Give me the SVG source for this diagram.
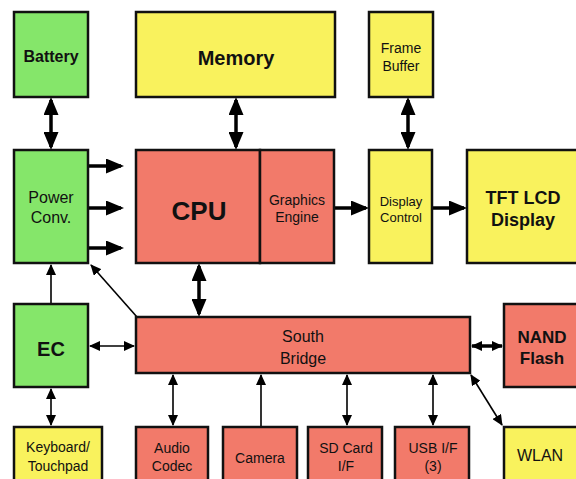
<svg xmlns="http://www.w3.org/2000/svg" width="576" height="479" viewBox="0 0 576 479">
<style>
  .box { stroke: #111; stroke-width: 2.5; }
  .g { fill: #85e66a; }
  .y { fill: #f9f25d; }
  .r { fill: #f27a6a; }
  text { font-family: "Liberation Sans", Arial, sans-serif; fill: #111; text-anchor: middle; }
  .b { font-weight: bold; }
  .thick { stroke: #000; stroke-width: 3.5; fill: none; }
  .thin { stroke: #000; stroke-width: 1.6; fill: none; }
</style>
<defs>
  <marker id="big" markerUnits="userSpaceOnUse" markerWidth="18" markerHeight="15" refX="15" refY="7.5" orient="auto-start-reverse">
    <path d="M0,0 L18,7.5 L0,15 z" fill="#000"/>
  </marker>
  <marker id="small" markerUnits="userSpaceOnUse" markerWidth="11" markerHeight="10" refX="10" refY="5" orient="auto-start-reverse">
    <path d="M0,0 L11,5 L0,10 z" fill="#000"/>
  </marker>
</defs>
<rect width="576" height="479" fill="#fff"/>

<g id="connectors">
  <line class="thick" x1="51" y1="100" x2="51" y2="147" marker-start="url(#big)" marker-end="url(#big)"/>
  <line class="thick" x1="236" y1="100" x2="236" y2="147" stroke-width="4.5" marker-start="url(#big)" marker-end="url(#big)"/>
  <line class="thick" x1="408" y1="100" x2="408" y2="147" marker-start="url(#big)" marker-end="url(#big)"/>
  <line class="thick" x1="89" y1="166" x2="121" y2="166" marker-end="url(#big)"/>
  <line class="thick" x1="89" y1="208" x2="121" y2="208" marker-end="url(#big)"/>
  <line class="thick" x1="89" y1="248" x2="121" y2="248" marker-end="url(#big)"/>
  <line class="thick" x1="335" y1="208" x2="366" y2="208" marker-end="url(#big)"/>
  <line class="thick" x1="433" y1="208" x2="464" y2="208" marker-end="url(#big)"/>
  <line class="thick" x1="199" y1="266" x2="199" y2="314" stroke-width="4.5" marker-start="url(#big)" marker-end="url(#big)"/>
  <line class="thin" x1="51" y1="303" x2="51" y2="265" marker-end="url(#small)"/>
  <line class="thin" x1="137" y1="317" x2="91" y2="265" marker-end="url(#small)"/>
  <line class="thin" x1="90" y1="346" x2="134" y2="346" marker-start="url(#small)" marker-end="url(#small)"/>
  <line class="thin" x1="51" y1="389" x2="51" y2="425" marker-start="url(#small)" marker-end="url(#small)"/>
  <line class="thin" x1="173" y1="375" x2="173" y2="425" marker-start="url(#small)" marker-end="url(#small)"/>
  <line class="thin" x1="261" y1="426" x2="261" y2="375" marker-end="url(#small)"/>
  <line class="thin" x1="347" y1="375" x2="347" y2="425" marker-start="url(#small)" marker-end="url(#small)"/>
  <line class="thin" x1="433" y1="375" x2="433" y2="425" marker-start="url(#small)" marker-end="url(#small)"/>
  <line class="thick" stroke-width="2.5" x1="472" y1="346" x2="502" y2="346" marker-start="url(#small)" marker-end="url(#small)"/>
  <line class="thin" x1="471" y1="375" x2="502" y2="425" marker-start="url(#small)" marker-end="url(#small)"/>
</g>

<g id="battery"><rect class="box g" x="14" y="12" width="74" height="85"/><text class="b" x="51" y="62" font-size="16">Battery</text></g>
<g id="memory"><rect class="box y" x="136" y="12" width="199" height="85"/><text class="b" x="236" y="65" font-size="20">Memory</text></g>
<g id="framebuffer"><rect class="box y" x="369" y="12" width="64" height="85"/><text x="401" y="53" font-size="14">Frame</text><text x="401" y="71" font-size="14">Buffer</text></g>
<g id="powerconv"><rect class="box g" x="14" y="150" width="74" height="113"/><text x="51" y="203" font-size="16">Power</text><text x="51" y="223" font-size="16">Conv.</text></g>
<g id="cpu"><rect class="box r" x="136" y="150" width="124" height="113"/><text class="b" x="199" y="220" font-size="26">CPU</text></g>
<g id="graphics"><rect class="box r" x="260" y="150" width="74" height="113"/><text x="297" y="205" font-size="14">Graphics</text><text x="297" y="222" font-size="14">Engine</text></g>
<g id="displaycontrol"><rect class="box y" x="369" y="150" width="63" height="113"/><text x="401" y="206" font-size="13">Display</text><text x="401" y="222" font-size="13">Control</text></g>
<g id="tft"><rect class="box y" x="467" y="150" width="115" height="113"/><text class="b" x="523" y="204" font-size="18">TFT LCD</text><text class="b" x="523" y="226" font-size="18">Display</text></g>
<g id="ec"><rect class="box g" x="14" y="304" width="74" height="83"/><text class="b" x="51" y="356" font-size="20">EC</text></g>
<g id="southbridge"><rect class="box r" x="136" y="317" width="334" height="56"/><text x="303" y="342" font-size="16">South</text><text x="303" y="364" font-size="16">Bridge</text></g>
<g id="nand"><rect class="box r" x="504" y="304" width="78" height="83"/><text class="b" x="542" y="343" font-size="17">NAND</text><text class="b" x="542" y="364" font-size="17">Flash</text></g>
<g id="keyboard"><rect class="box y" x="14" y="427" width="88" height="60"/><text x="58" y="452" font-size="14">Keyboard/</text><text x="58" y="471" font-size="14">Touchpad</text></g>
<g id="audio"><rect class="box r" x="136" y="427" width="72" height="60"/><text x="172" y="453" font-size="14">Audio</text><text x="172" y="471" font-size="14">Codec</text></g>
<g id="camera"><rect class="box r" x="223" y="427" width="74" height="60"/><text x="260" y="463" font-size="14">Camera</text></g>
<g id="sdcard"><rect class="box r" x="308" y="427" width="74" height="60"/><text x="346" y="453" font-size="14">SD Card</text><text x="346" y="471" font-size="14">I/F</text></g>
<g id="usb"><rect class="box r" x="395" y="427" width="74" height="60"/><text x="433" y="453" font-size="14">USB I/F</text><text x="433" y="471" font-size="14">(3)</text></g>
<g id="wlan"><rect class="box y" x="504" y="427" width="78" height="60"/><text x="540" y="461" font-size="16">WLAN</text></g>
</svg>
